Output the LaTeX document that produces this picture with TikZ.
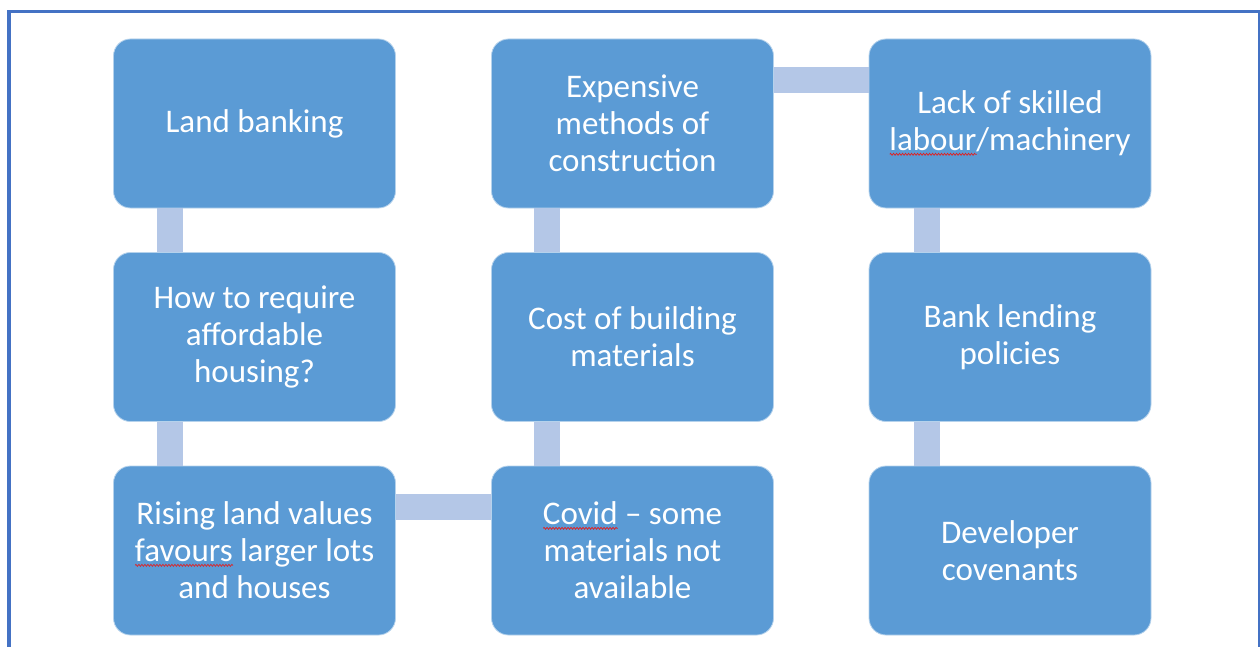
\documentclass[tikz,border=0pt]{standalone}
\usepackage{fontspec}
\setmainfont{Carlito}
\usetikzlibrary{calc,decorations.pathmorphing}

\definecolor{boxblue}{HTML}{5B9BD5}
\definecolor{linkblue}{HTML}{B4C7E7}
\definecolor{framblue}{HTML}{4472C4}
\definecolor{spellred}{HTML}{E02020}

% red wavy spell-check mark under a word
\newsavebox\spellbox
\newlength\spellwd
\newcommand\spellmark[1]{%
  \sbox\spellbox{#1}\setlength\spellwd{\wd\spellbox}%
  \rlap{\tikz[baseline=0pt]\draw[spellred, line width=0.7pt, sharp corners,
      decorate, decoration={zigzag, amplitude=1pt, segment length=3pt}]
      (0pt,-3.5pt) -- (\spellwd,-3.5pt);}%
  \usebox\spellbox}

\tikzset{
  causebox/.style={rectangle, rounded corners=17pt, fill=boxblue,
    draw=white!55!boxblue, line width=0.8pt,
    minimum width=282pt, minimum height=169pt, inner sep=0pt,
    text=white, align=center,
    font=\fontsize{33}{37}\selectfont},
  linkbar/.style={draw=linkblue, line width=26pt, line cap=butt},
}

\begin{document}
\begin{tikzpicture}[x=1pt, y=-1pt]
  \useasboundingbox (0,0) rectangle (1260,647);
  \fill[white] (0,0) rectangle (1260,647);

  % surrounding frame
  \draw[framblue, line width=3.5pt] (9,660) -- (9,11.3) -- (1262,11.3);
  \draw[framblue, line width=1.2pt] (1259,11.3) -- (1259,660);

  % column 1
  \node[causebox] (land)  at (254.5,123.5) {Land banking};
  \node[causebox] (afford) at (254.5,337) {How to require\\affordable\\housing?};
  \node[causebox] (rising) at (254.5,550.5) {Rising land values\\\spellmark{favours} larger lots\\and houses};

  % column 2
  \node[causebox] (expens) at (632.5,123.5) {Expensive\\methods of\\construction};
  \node[causebox] (cost)   at (632.5,337) {Cost of building\\materials};
  \node[causebox] (covid)  at (632.5,550.5) {\spellmark{Covid} – some\\materials not\\available};

  % column 3
  \node[causebox] (skill)  at (1010,123.5) {Lack of skilled\\\spellmark{labour}/machinery};
  \node[causebox] (bank)   at (1010,337) {Bank lending\\policies};
  \node[causebox] (devel)  at (1010,550.5) {Developer\\covenants};

  % links between boxes
  \draw[linkbar] ($(land.south west)+(57,0)$) -- ($(afford.north west)+(57,0)$);
  \draw[linkbar] ($(afford.south west)+(57,0)$) -- ($(rising.north west)+(57,0)$);
  \draw[linkbar] ($(rising.north east)+(0,41)$) -- ($(covid.north west)+(0,41)$);
  \draw[linkbar] ($(covid.north west)+(56,0)$) -- ($(cost.south west)+(56,0)$);
  \draw[linkbar] ($(cost.north west)+(56,0)$) -- ($(expens.south west)+(56,0)$);
  \draw[linkbar] ($(expens.north east)+(0,41)$) -- ($(skill.north west)+(0,41)$);
  \draw[linkbar] ($(skill.south west)+(58,0)$) -- ($(bank.north west)+(58,0)$);
  \draw[linkbar] ($(bank.south west)+(58,0)$) -- ($(devel.north west)+(58,0)$);
\end{tikzpicture}
\end{document}
